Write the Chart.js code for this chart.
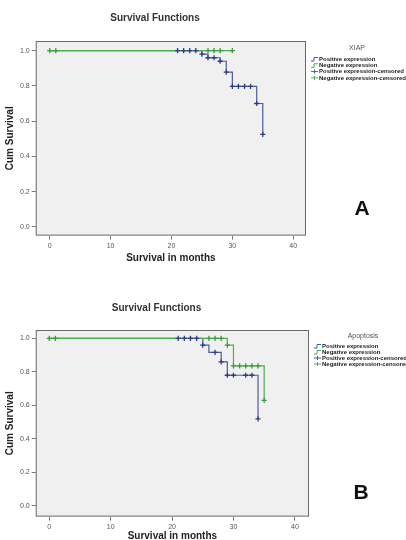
<!DOCTYPE html>
<html>
<head>
<meta charset="utf-8">
<script src="https://cdn.jsdelivr.net/npm/chart.js@4"></script>
<style>
  body { margin: 0; background: #fff; }
  .panel { position: absolute; left: 0; width: 406px; height: 270px; }
</style>
</head>
<body>
<div class="panel" style="top:0"><canvas id="chartA" width="406" height="270"></canvas></div>
<div class="panel" style="top:270px"><canvas id="chartB" width="406" height="270"></canvas></div>
<script>
// ticks
const xTicks = [0, 10, 20, 30, 40];
const yTicks = [0, 0.2, 0.4, 0.6, 0.8, 1.0];
const legendLabels = ['Positive expression', 'Negative expression', 'Positive expression-censored', 'Negative expression-censored'];

// panel A - XIAP
const posTimeA = [0, 25, 26, 28, 29, 30, 34, 35];
const posSurvA = [1, 0.98, 0.96, 0.94, 0.878, 0.797, 0.70, 0.525];
const posCensTimeA = [21, 22, 23, 24, 25, 26, 27, 28, 29, 30, 31, 32, 33, 34, 35];
const posCensSurvA = [1, 1, 1, 1, 0.98, 0.96, 0.96, 0.94, 0.878, 0.797, 0.797, 0.797, 0.797, 0.70, 0.525];
const negTimeA = [0, 30];
const negSurvA = [1, 1];
const negCensTimeA = [0, 1, 26, 27, 28, 30];
const negCensSurvA = [1, 1, 1, 1, 1, 1];

// panel B - Apoptosis
const posTimeB = [0, 25, 26, 28, 29, 34];
const posSurvB = [1, 0.96, 0.916, 0.86, 0.78, 0.52];
const posCensTimeB = [21, 22, 23, 24, 25, 27, 28, 29, 30, 32, 33, 34];
const posCensSurvB = [1, 1, 1, 1, 0.96, 0.916, 0.86, 0.78, 0.78, 0.78, 0.78, 0.52];
const negTimeB = [0, 29, 30, 35];
const negSurvB = [1, 0.96, 0.836, 0.63];
const negCensTimeB = [0, 1, 26, 27, 28, 29, 30, 31, 32, 33, 34, 35];
const negCensSurvB = [1, 1, 1, 1, 1, 0.96, 0.836, 0.836, 0.836, 0.836, 0.836, 0.63];

const blue = '#4a5a9e';
const blueMark = '#2e3c82';
const green = '#4caf50';
const greenMark = '#3a9a3e';
const fontFam = '"Liberation Sans", Arial, sans-serif';

function pts(t, s) {
    return t.map((v, i) => ({x: v, y: s[i]}));
}

const kmPlot = {
    id: 'kmPlot',
    beforeDatasetsDraw(chart) {
        const a = chart.chartArea;
        const ctx = chart.ctx;
        ctx.save();
        ctx.fillStyle = '#f0f0f0';
        ctx.fillRect(a.left, a.top, a.right - a.left, a.bottom - a.top);
        ctx.strokeStyle = '#6a6a6a';
        ctx.lineWidth = 1;
        ctx.strokeRect(a.left + 0.5, a.top + 0.5, a.right - a.left - 1, a.bottom - a.top - 1);
        ctx.restore();
    },
    afterDraw(chart, args, opts) {
        const ctx = chart.ctx;
        ctx.save();
        ctx.fillStyle = '#555';
        ctx.font = '7px ' + fontFam;
        ctx.textAlign = 'center';
        ctx.textBaseline = 'middle';
        ctx.fillText(opts.title, opts.titleX, opts.titleY);
        const cols = [blue, green, blue, green];
        for (let i = 0; i < legendLabels.length; i++) {
            const y = opts.itemY + i * opts.step;
            const x0 = opts.textX - 8;
            ctx.strokeStyle = cols[i];
            ctx.lineWidth = 1;
            ctx.beginPath();
            if (i < 2) {
                ctx.moveTo(x0, y + 2);
                ctx.lineTo(x0 + 3, y + 2);
                ctx.lineTo(x0 + 3, y - 1.5);
                ctx.lineTo(x0 + 7, y - 1.5);
            } else {
                ctx.moveTo(x0, y);
                ctx.lineTo(x0 + 7, y);
                ctx.moveTo(x0 + 3.5, y - 2);
                ctx.lineTo(x0 + 3.5, y + 2);
            }
            ctx.stroke();
            ctx.fillStyle = '#222';
            ctx.font = 'bold 6px ' + fontFam;
            ctx.textAlign = 'left';
            ctx.fillText(legendLabels[i], opts.textX, y);
        }
        ctx.fillStyle = '#111';
        ctx.font = 'bold 21px ' + fontFam;
        ctx.textAlign = 'center';
        ctx.fillText(opts.letter, opts.letterX, opts.letterY);
        ctx.restore();
    }
};

function makeChart(id, d, lay) {
    const ctx = document.getElementById(id).getContext('2d');
    return new Chart(ctx, {
        type: 'scatter',
        data: {
            datasets: [
                {
                    label: 'pos-cens', data: pts(d.posCensT, d.posCensS), showLine: false,
                    pointStyle: 'cross', pointRadius: 2.6, pointBorderWidth: 1.3,
                    borderColor: blueMark, backgroundColor: blueMark
                },
                {
                    label: 'neg-cens', data: pts(d.negCensT, d.negCensS), showLine: false,
                    pointStyle: 'cross', pointRadius: 2.6, pointBorderWidth: 1.3,
                    borderColor: greenMark, backgroundColor: greenMark
                },
                {
                    label: 'neg', data: pts(d.negT, d.negS), showLine: true, stepped: 'before',
                    pointRadius: 0, borderColor: green, borderWidth: 1.2, fill: false
                },
                {
                    label: 'pos', data: pts(d.posT, d.posS), showLine: true, stepped: 'before',
                    pointRadius: 0, borderColor: blue, borderWidth: 1.2, fill: false
                }
            ]
        },
        options: {
            responsive: false,
            animation: false,
            layout: { padding: lay.padding },
            plugins: {
                legend: { display: false },
                tooltip: { enabled: false },
                title: {
                    display: true,
                    text: 'Survival Functions',
                    color: '#333',
                    font: { family: fontFam, size: 10, weight: 'bold' },
                    padding: lay.titlePad
                },
                kmPlot: lay.legend
            },
            scales: {
                x: {
                    type: 'linear', min: lay.xMin, max: lay.xMax,
                    afterBuildTicks: ax => { ax.ticks = xTicks.map(v => ({value: v})); },
                    grid: { drawOnChartArea: false, drawTicks: true, tickLength: 4, color: '#777' },
                    border: { display: false },
                    ticks: { color: '#555', font: { family: fontFam, size: 7 }, padding: 2, maxRotation: 0 },
                    title: {
                        display: true, text: 'Survival in months', color: '#222',
                        font: { family: fontFam, size: 10, weight: 'bold' }, padding: { top: lay.xTitleTop, bottom: 0 }
                    }
                },
                y: {
                    min: lay.yMin, max: lay.yMax,
                    afterBuildTicks: ax => { ax.ticks = yTicks.map(v => ({value: v})); },
                    grid: { drawOnChartArea: false, drawTicks: true, tickLength: 4, color: '#777' },
                    border: { display: false },
                    ticks: { color: '#555', font: { family: fontFam, size: 7 }, padding: 2, callback: v => v.toFixed(1) },
                    title: {
                        display: true, text: 'Cum Survival', color: '#222',
                        font: { family: fontFam, size: 10, weight: 'bold' }, padding: { top: 0, bottom: 2 }
                    }
                }
            }
        },
        plugins: [kmPlot]
    });
}

makeChart('chartA', {
    posT: posTimeA, posS: posSurvA, posCensT: posCensTimeA, posCensS: posCensSurvA,
    negT: negTimeA, negS: negSurvA, negCensT: negCensTimeA, negCensS: negCensSurvA
}, {
    padding: { left: 4, right: 100, top: 0, bottom: 6 },
    titlePad: { top: 12, bottom: 17 },
    xTitleTop: 0,
    xMin: -2.3, xMax: 42.1, yMin: -0.05, yMax: 1.055,
    legend: { title: 'XIAP', titleX: 357, titleY: 48, textX: 319, itemY: 59, step: 6.3, letter: 'A', letterX: 362, letterY: 209 }
});

makeChart('chartB', {
    posT: posTimeB, posS: posSurvB, posCensT: posCensTimeB, posCensS: posCensSurvB,
    negT: negTimeB, negS: negSurvB, negCensT: negCensTimeB, negCensS: negCensSurvB
}, {
    padding: { left: 4, right: 97, top: 0, bottom: -2 },
    titlePad: { top: 32, bottom: 16 },
    xTitleTop: -3,
    xMin: -2.2, xMax: 42.3, yMin: -0.064, yMax: 1.05,
    legend: { title: 'Apoptosis', titleX: 363, titleY: 66, textX: 322, itemY: 76, step: 6, letter: 'B', letterX: 361, letterY: 223 }
});
</script>
</body>
</html>
